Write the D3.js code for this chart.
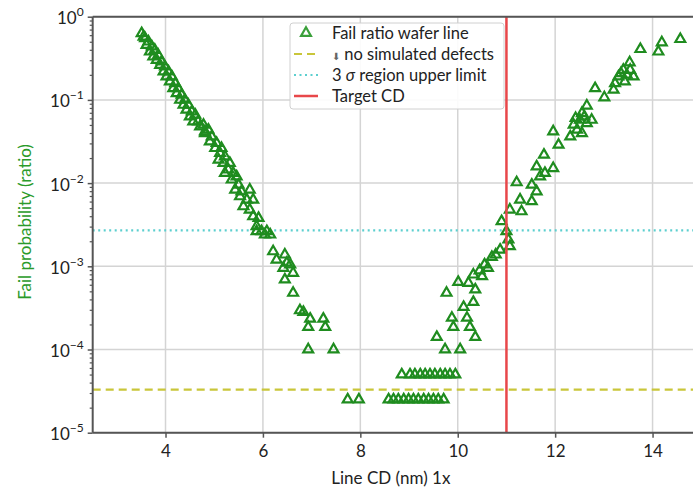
<!DOCTYPE html>
<html><head><meta charset="utf-8">
<script src="https://cdn.jsdelivr.net/npm/d3@7"></script>
<style>body{margin:0;background:#fff}svg{display:block}text{font-family:Lato,"Open Sans",sans-serif}</style>
</head><body><svg id="c" width="693" height="491"></svg>
<script>
// Line CD (nm) of each measured point
const lineCD = [
 3.51,3.55,3.58,3.65,3.61,3.72,3.68,3.78,3.75,3.85,3.82,3.92,3.89,3.99,3.96,4.06,4.02,4.13,4.09,4.20,4.16,4.26,4.23,4.33,4.30,4.40,4.37,4.47,4.43,4.54,4.50,4.61,4.57,4.67,4.71,4.78,4.81,4.88,
 4.81,4.95,4.91,5.05,5.02,5.15,5.12,5.22,5.09,5.19,5.32,5.29,5.39,5.22,5.36,5.46,5.50,5.43,5.56,5.73,5.53,5.67,5.80,5.73,5.60,5.80,5.91,5.87,5.87,5.97,6.08,6.15,6.04,
 6.21,6.28,6.45,6.49,6.42,6.56,6.62,6.45,6.62,6.76,6.83,6.97,6.93,7.24,7.28,6.93,7.45,7.74,7.97,
 8.58,8.68,8.78,8.89,8.99,9.09,9.19,9.30,9.40,9.50,9.60,9.71,
 8.85,9.02,9.12,9.23,9.33,9.43,9.53,9.64,9.74,9.84,9.95,
 9.57,9.74,10.05,9.91,9.88,9.77,10.12,10.19,10.25,10.36,10.32,10.01,10.22,10.32,10.36,
 10.45,10.55,10.62,10.78,10.50,
 10.70,10.87,11.07,11.04,11.00,10.90,11.07,11.31,11.52,11.28,11.62,11.21,11.52,11.69,11.96,11.79,11.62,11.77,12.07,11.96,
 12.31,12.55,12.45,12.38,12.51,12.65,12.75,12.55,12.65,12.60,12.42,13.01,12.82,13.20,13.23,13.43,13.30,13.40,13.61,13.54,13.53,13.47,13.35,13.75,14.12,14.19,14.57
];
// Fail probability (ratio) of each point
const failRatio = [
 0.631,0.575,0.550,0.501,0.457,0.437,0.380,0.398,0.331,0.347,0.302,0.288,0.263,0.251,0.219,0.219,0.191,0.191,0.166,0.158,0.138,0.138,0.120,0.115,0.100,0.100,0.0871,0.0871,0.0759,0.0724,0.0631,0.0661,0.0550,0.0550,0.0479,0.0501,0.0417,0.0437,
 0.0398,0.0363,0.0316,0.0302,0.0263,0.0263,0.0229,0.0209,0.0191,0.0174,0.0174,0.0145,0.0132,0.0132,0.0110,0.0120,0.00955,0.00832,0.00794,0.00832,0.00692,0.00631,0.00631,0.00479,0.00525,0.00398,0.00380,0.00302,0.00263,0.00263,0.00263,0.00240,0.00240,
 0.00151,0.00120,0.00138,0.00110,0.000955,0.00105,0.000832,0.000692,0.000479,0.000295,0.000282,0.000234,0.000186,0.000234,0.000186,1.0e-4,1.0e-4,2.5e-5,2.5e-5,
 2.5e-5,2.5e-5,2.5e-5,2.5e-5,2.5e-5,2.5e-5,2.5e-5,2.5e-5,2.5e-5,2.5e-5,2.5e-5,2.5e-5,
 5e-5,5e-5,5e-5,5e-5,5e-5,5e-5,5e-5,5e-5,5e-5,5e-5,5e-5,
 0.000141,1.0e-4,1.0e-4,0.000186,0.000240,0.000479,0.000324,0.000240,0.000186,0.000141,0.000372,0.000646,0.000631,0.000794,0.000525,
 0.000891,0.00105,0.000955,0.00138,0.000759,
 0.00129,0.00158,0.00174,0.00209,0.00263,0.00347,0.00479,0.00457,0.00603,0.00631,0.00794,0.0102,0.00955,0.0120,0.0151,0.0132,0.0158,0.0219,0.0288,0.0417,
 0.0363,0.0398,0.0437,0.0501,0.0575,0.0525,0.0575,0.0692,0.0851,0.0631,0.0603,0.107,0.138,0.132,0.158,0.166,0.191,0.229,0.191,0.229,0.282,0.200,0.209,0.407,0.380,0.490,0.537
];
const xTicks = [4,6,8,10,12,14];
const yTicks = [1,1e-1,1e-2,1e-3,1e-4,1e-5];
const yTickExp = ["0","\u22121","\u22122","\u22123","\u22124","\u22125"];
const noDefectLevel = 3.3e-5;
const sigma3Limit = 2.7e-3;
const targetCD = 11;
const legendLabels = ["Fail ratio wafer line","no simulated defects","3 \u03c3 region upper limit","Target CD"];
const xLabel = "Line CD (nm) 1x";
const yLabel = "Fail probability (ratio)";

const svg = d3.select("#c");
const L=92.7, T=16.7, B=432.7, R=711;
const x = d3.scaleLinear().domain([2.505, 15.2]).range([L, R]);
const y = d3.scaleLog().domain([1e-5, 1]).range([B, T]);
const green = "#1f8c1f", grid = "#d4d4d4", axisC = "#555";

// grid
svg.append("g").selectAll("line").data(xTicks).join("line")
  .attr("x1", d=>x(d)).attr("x2", d=>x(d)).attr("y1", T).attr("y2", B)
  .attr("stroke", grid).attr("stroke-width", 1.5);
svg.append("g").selectAll("line").data(yTicks).join("line")
  .attr("x1", L).attr("x2", R).attr("y1", d=>y(d)).attr("y2", d=>y(d))
  .attr("stroke", grid).attr("stroke-width", 1.5);

svg.append("defs").append("clipPath").attr("id","clip").append("rect")
  .attr("x",L).attr("y",T).attr("width",R-L).attr("height",B-T);
const plot = svg.append("g").attr("clip-path","url(#clip)");

// reference lines
plot.append("line").attr("x1",L).attr("x2",R).attr("y1",y(noDefectLevel)).attr("y2",y(noDefectLevel))
  .attr("stroke","#c9c63a").attr("stroke-width",2.2).attr("stroke-dasharray","8,5");
plot.append("line").attr("x1",L).attr("x2",R).attr("y1",y(sigma3Limit)).attr("y2",y(sigma3Limit))
  .attr("stroke","#5ccfcf").attr("stroke-width",2.2).attr("stroke-dasharray","2,3.5");

// points
const tri = d3.symbol().type(d3.symbolTriangle).size(42);
plot.append("g").selectAll("path").data(d3.range(lineCD.length)).join("path")
  .attr("d", tri).attr("transform", i=>`translate(${x(lineCD[i])},${y(failRatio[i])})`)
  .attr("fill","none").attr("stroke",green).attr("stroke-width",2.2);

// target line
plot.append("line").attr("x1",x(targetCD)).attr("x2",x(targetCD)).attr("y1",T).attr("y2",B)
  .attr("stroke","#e8474a").attr("stroke-width",2.5);

// axes
const xAxis = d3.axisBottom(x).tickValues(xTicks).tickSize(5).tickFormat(d3.format("d"));
const gx = svg.append("g").attr("transform",`translate(0,${B})`).call(xAxis);
gx.select(".domain").remove();
gx.selectAll(".tick line").attr("stroke",axisC).attr("stroke-width",1.5);
gx.selectAll(".tick text").attr("font-size",17).attr("fill","#222").attr("dy","0.95em");

const minor = [];
for (let e=-5;e<0;e++) for (let k=2;k<10;k++) minor.push(k*Math.pow(10,e));
const yAxisMinor = d3.axisLeft(y).tickValues(minor).tickSize(3).tickFormat("");
const gym = svg.append("g").attr("transform",`translate(${L},0)`).call(yAxisMinor);
gym.select(".domain").remove();
gym.selectAll(".tick line").attr("stroke",axisC).attr("stroke-width",1.2);
const yAxis = d3.axisLeft(y).tickValues(yTicks).tickSize(5).tickFormat("");
const gy = svg.append("g").attr("transform",`translate(${L},0)`).call(yAxis);
gy.select(".domain").remove();
gy.selectAll(".tick line").attr("stroke",axisC).attr("stroke-width",1.5);
gy.selectAll(".tick").each(function(d,i){
  const t = d3.select(this).append("text").attr("x",-9).attr("y",7).attr("text-anchor","end")
    .attr("font-size",17).attr("fill","#222");
  t.append("tspan").text("10");
  t.append("tspan").attr("font-size",12).attr("dy",-8).text(yTickExp[i]);
});

// frame
svg.append("line").attr("x1",L).attr("x2",R).attr("y1",B).attr("y2",B).attr("stroke",axisC).attr("stroke-width",2);
svg.append("line").attr("x1",L).attr("x2",L).attr("y1",T).attr("y2",B).attr("stroke",axisC).attr("stroke-width",2);
svg.append("line").attr("x1",L).attr("x2",R).attr("y1",T).attr("y2",T).attr("stroke",axisC).attr("stroke-width",2);

// labels
svg.append("text").attr("x",(L+693)/2 - 2).attr("y",484).attr("text-anchor","middle")
  .attr("font-size",17).attr("fill","#222").text(xLabel);
svg.append("text").attr("transform","translate(31,222) rotate(-90)").attr("text-anchor","middle")
  .attr("font-size",17).attr("fill","#2a9a2a").text(yLabel);

// legend
const lg = svg.append("g");
lg.append("rect").attr("x",290).attr("y",23).attr("width",214).attr("height",86).attr("rx",3)
  .attr("fill","#fff").attr("fill-opacity",0.9).attr("stroke","#d0d0d0");
const rows=[33,54,75,96];
lg.append("path").attr("d",tri).attr("transform",`translate(306,${rows[0]})`)
  .attr("fill","none").attr("stroke","#3aa03a").attr("stroke-width",2.2);
lg.append("line").attr("x1",294).attr("x2",318).attr("y1",rows[1]).attr("y2",rows[1])
  .attr("stroke","#c9c63a").attr("stroke-width",2.2).attr("stroke-dasharray","8,5");
lg.append("line").attr("x1",294).attr("x2",318).attr("y1",rows[2]).attr("y2",rows[2])
  .attr("stroke","#5ccfcf").attr("stroke-width",2.2).attr("stroke-dasharray","2,3.5");
lg.append("line").attr("x1",294).attr("x2",318).attr("y1",rows[3]).attr("y2",rows[3])
  .attr("stroke","#e8474a").attr("stroke-width",2.5);
legendLabels.forEach((s,i)=>{
  const t = lg.append("text").attr("x",332).attr("y",rows[i]+5.5).attr("font-size",16.5).attr("fill","#222");
  if (i===1){ t.append("tspan").attr("font-size",10).attr("fill","#666").text("\u2B07"); t.append("tspan").text(" "+s); }
  else if (i===2){ t.append("tspan").text("3 "); t.append("tspan").attr("font-style","italic").text("\u03c3"); t.append("tspan").text(" region upper limit"); }
  else t.text(s);
});
</script></body></html>
